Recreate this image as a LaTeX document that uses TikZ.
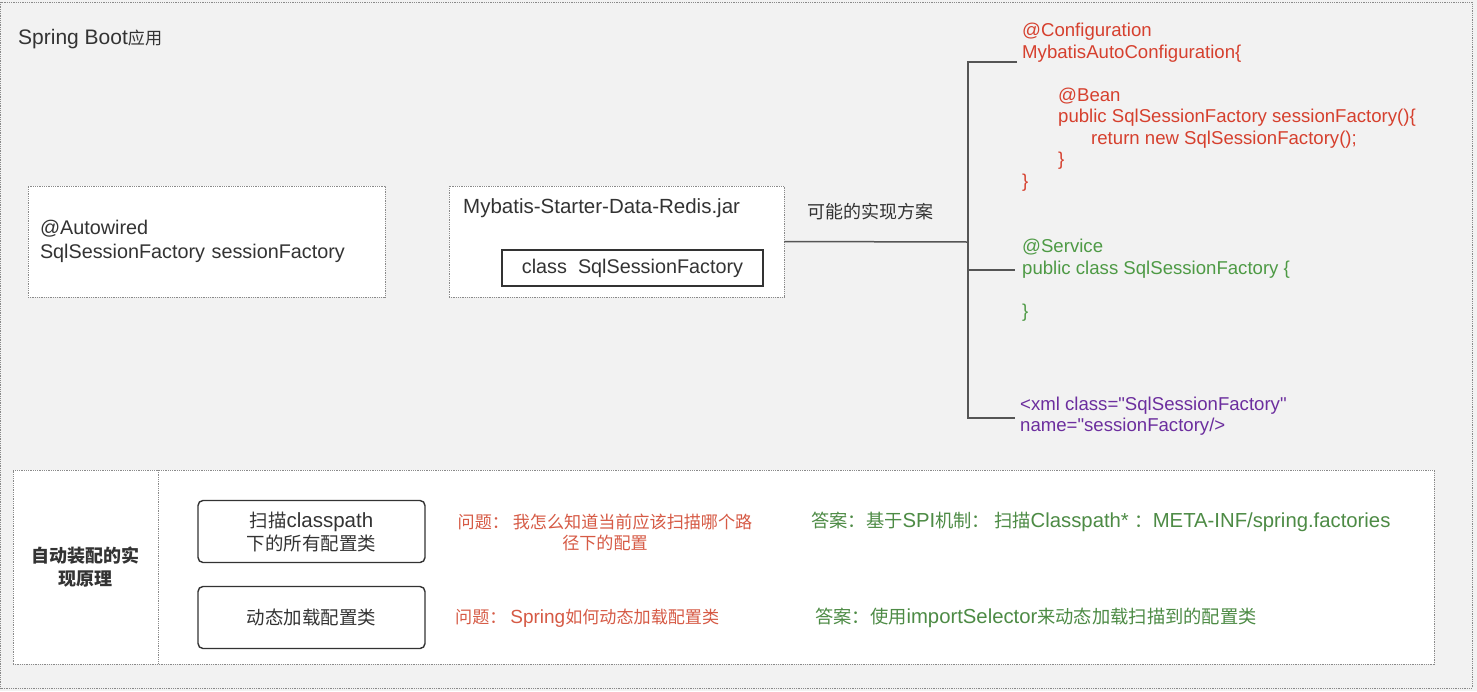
\documentclass[tikz,border=0pt]{standalone}
\usepackage{fontspec}
\setmainfont{Liberation Sans}
\newfontfamily\cjk[Scale=0.9]{Noto Sans CJK SC}
\newcommand{\zh}[1]{{\cjk #1}}
\usetikzlibrary{positioning}
\definecolor{canvas}{HTML}{F2F2F2}
\definecolor{dotgray}{HTML}{8A8A8A}
\definecolor{ink}{HTML}{333333}
\definecolor{linkgray}{HTML}{555555}
\definecolor{codered}{HTML}{D6402E}
\definecolor{codegreen}{HTML}{4E9A45}
\definecolor{codepurple}{HTML}{6C2E9E}
\definecolor{askred}{HTML}{D65A45}
\definecolor{ansgreen}{HTML}{4D8B45}

\begin{document}
\begin{tikzpicture}[x=1pt,y=-1pt,
    dotbox/.style={draw=dotgray,line width=0.8pt,dash pattern=on 0.9pt off 0.9pt,fill=white},
    dotline/.style={draw=dotgray,line width=0.8pt,dash pattern=on 0.9pt off 0.9pt},
    plain/.style={text=ink,font=\fontsize{19.8}{24}\selectfont},
    code/.style={anchor=west,align=left,inner sep=0pt,font=\fontsize{18.6}{21.5}\selectfont},
    stepbox/.style={draw=ink,fill=white,rounded corners=5pt,line width=1.4pt,
      minimum width=227pt,minimum height=62pt,align=center,text=ink,
      font=\fontsize{20.5}{23}\selectfont},
    note/.style={inner sep=0pt,font=\fontsize{19}{21}\selectfont},
    answer/.style={note,anchor=west,text=ansgreen,font=\fontsize{20.3}{21}\selectfont},
    link/.style={draw=linkgray,line width=1.5pt}]
  \fill[canvas] (0,0) rectangle (1477,691);
  \useasboundingbox (0,0) rectangle (1477,691);
  \draw[dotline] (0.5,2) rectangle (1472,688);

  % application
  \node[anchor=west,inner sep=0pt,text=ink,font=\fontsize{21}{24}\selectfont] (app) at (18,39)
    {Spring Boot{\cjk\fontsize{19}{21}\selectfont 应用}};
  \node[dotbox,plain,minimum width=357pt,minimum height=111pt,text width=333pt,
    inner xsep=12pt,align=left] (autowired) at (206.5,241.5)
    {@Autowired\\SqlSessionFactory sessionFactory};
  \node[dotbox,minimum width=335pt,minimum height=111pt] (jar) at (616.5,241.5) {};
  \node[plain,anchor=west,inner sep=0pt,font=\fontsize{20.5}{24}\selectfont] (jarname) at (463,208)
    {Mybatis-Starter-Data-Redis.jar};
  \node[plain,draw=ink,fill=white,line width=1.3pt,minimum width=261pt,minimum height=36pt]
    (cls) at (632.5,268) {class\ \ SqlSessionFactory};
  \node[text=ink,font=\fontsize{20}{24}\selectfont\cjk] (maybe) at (870,212) {可能的实现方案};

  % possible implementations
  \node[code,text=codered] (cfg) at (1022,107)
    {@Configuration\\
     MybatisAutoConfiguration\{\\[21.5pt]
     \hspace*{36pt}@Bean\\
     \hspace*{36pt}public SqlSessionFactory sessionFactory()\{\\
     \hspace*{69pt}return new SqlSessionFactory();\\
     \hspace*{36pt}\}\\
     \}};
  \node[code,text=codegreen] (svc) at (1022,280)
    {@Service\\public class SqlSessionFactory \{\\[21.5pt]\}};
  \node[code,text=codepurple] (xml) at (1020,416)
    {<xml class=\textquotedbl SqlSessionFactory\textquotedbl\\name=\textquotedbl sessionFactory/>};

  \coordinate (fork) at (968,242);
  \coordinate (cfgend) at (1017,62);
  \coordinate (svcend) at (1015,270);
  \coordinate (xmlend) at (1015,418);
  \draw[link] (jar.east) -- (fork);
  \draw[link] (cfgend) -| (fork) |- (xmlend);
  \draw[link] (fork |- svcend) -- (svcend);

  % principle
  \node[dotbox,minimum width=1421pt,minimum height=194pt] (principle) at (723.5,567) {};
  \draw[dotline] (158,470) -- (158,664);
  \node[text=ink,align=center,font=\fontsize{20}{23}\selectfont\cjk\bfseries] (title) at (85.5,567)
    {自动装配的实\\现原理};
  \node[stepbox] (scan) at (311.5,531.5) {\zh{扫描}classpath\\\zh{下的所有配置类}};
  \node[stepbox] (load) at (311.5,617.5) {\zh{动态加载配置类}};
  \node[note,text=askred,align=center] (q1) at (605,532)
    {\zh{问题： 我怎么知道当前应该扫描哪个路}\\\zh{径下的配置}};
  \node[note,anchor=west,text=askred] (q2) at (455,618)
    {\zh{问题： }Spring\zh{如何动态加载配置类}};
  \node[answer] (a1) at (811,522)
    {\zh{答案：基于}SPI\zh{机制： 扫描}Classpath* \zh{：}META-INF/spring.factories};
  \node[answer] (a2) at (815,618)
    {\zh{答案：使用}importSelector\zh{来动态加载扫描到的配置类}};
\end{tikzpicture}
\end{document}
